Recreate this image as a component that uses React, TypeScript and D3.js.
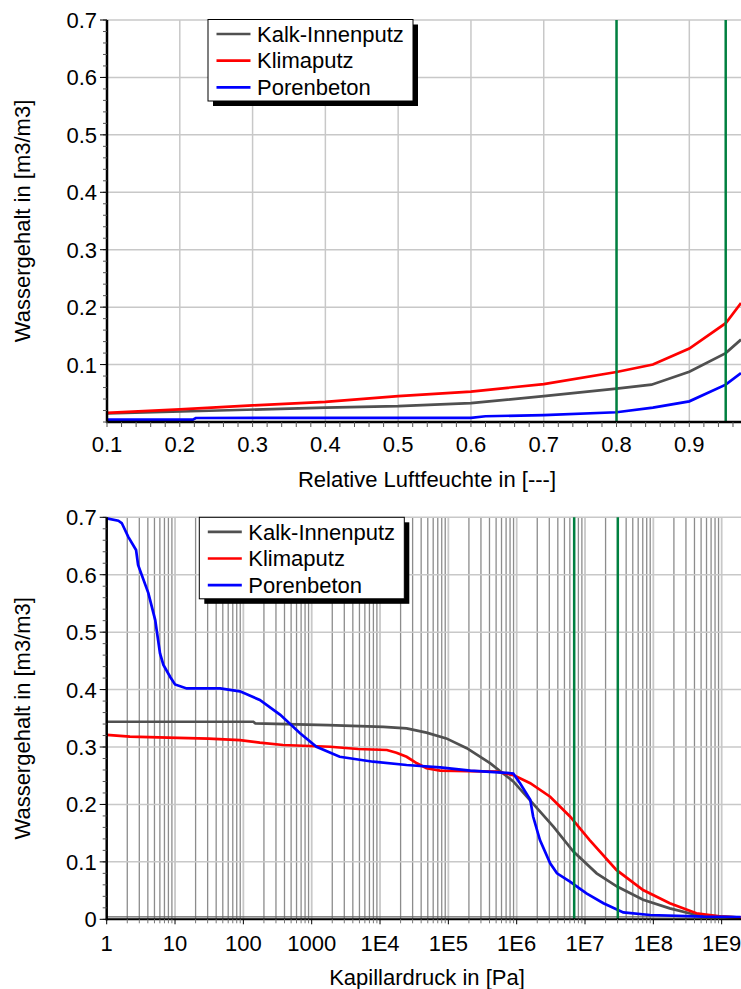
import React from "react";
import * as d3 from "d3";

// ---------- Data ----------
const seriesNames = ["Kalk-Innenputz", "Klimaputz", "Porenbeton"];
const seriesColors = ["#505050", "#ff0000", "#0000ff"];

// Top chart: relative humidity [-] vs water content
const rhKalk = [0.1, 0.4, 0.5, 0.6, 0.7, 0.8, 0.848, 0.9, 0.95, 0.971];
const wKalkRH = [0.0148, 0.025, 0.0275, 0.033, 0.045, 0.058, 0.065, 0.0875, 0.12, 0.1435];
const rhKlima = [0.1, 0.2, 0.3, 0.4, 0.5, 0.6, 0.7, 0.8, 0.85, 0.9, 0.95, 0.971];
const wKlimaRH = [0.016, 0.022, 0.029, 0.035, 0.045, 0.053, 0.066, 0.087, 0.1, 0.128, 0.172, 0.207];
const rhPoren = [0.1, 0.218, 0.222, 0.6, 0.62, 0.7, 0.8, 0.85, 0.9, 0.95, 0.971];
const wPorenRH = [0.004, 0.004, 0.007, 0.0073, 0.01, 0.012, 0.017, 0.025, 0.036, 0.065, 0.085];
const rhMarkers = [0.8, 0.95];

// Bottom chart: capillary pressure [Pa] vs water content
const pcKalk = [1, 140, 150, 1740, 11200, 24500, 47900, 93300, 186000, 407000, 891000, 1.55e6, 3.47e6, 6.76e6, 1.48e7, 2.95e7, 7.08e7, 1.74e8, 4.27e8, 1.9e9];
const wKalkPc = [0.344, 0.344, 0.341, 0.338, 0.335, 0.3325, 0.325, 0.315, 0.298, 0.272, 0.24, 0.208, 0.161, 0.118, 0.08, 0.057, 0.034, 0.019, 0.0075, 0.003];
const pcKlima = [1, 2.19, 11, 31, 89, 174, 380, 1860, 4790, 12600, 17400, 24500, 34700, 47900, 75900, 513000, 891000, 1.58e6, 3.09e6, 6.03e6, 1.17e7, 2.88e7, 7.08e7, 1.74e8, 4.27e8, 1.05e9, 1.9e9];
const wKlimaPc = [0.321, 0.318, 0.316, 0.3145, 0.312, 0.3075, 0.3035, 0.3005, 0.2965, 0.2948, 0.29, 0.283, 0.2716, 0.263, 0.2588, 0.257, 0.251, 0.237, 0.2135, 0.179, 0.138, 0.086, 0.051, 0.028, 0.0105, 0.0045, 0.003];
const pcPoren = [1, 1.48, 1.66, 2.07, 2.69, 2.88, 4.07, 5.13, 6.03, 6.76, 8.51, 10, 14.8, 45.7, 89, 174, 347, 676, 1175, 2570, 7943, 24500, 75900, 209000, 891000, 1.12e6, 1.58e6, 1.74e6, 2.19e6, 3.09e6, 3.89e6, 6.03e6, 1.05e7, 1.86e7, 3.63e7, 8.91e7, 5.37e8, 1.9e9];
const wPorenPc = [0.698, 0.694, 0.69, 0.666, 0.643, 0.617, 0.568, 0.521, 0.463, 0.443, 0.422, 0.409, 0.402, 0.402, 0.397, 0.382, 0.356, 0.324, 0.3005, 0.283, 0.2744, 0.2687, 0.2647, 0.2588, 0.254, 0.237, 0.208, 0.179, 0.138, 0.0975, 0.08, 0.0655, 0.045, 0.028, 0.012, 0.0075, 0.0045, 0.004];
const pcMarkers = [6.94e6, 3.02e7];

const yTicksTop = [0.1, 0.2, 0.3, 0.4, 0.5, 0.6, 0.7];
const yTicksBottom = [0, 0.1, 0.2, 0.3, 0.4, 0.5, 0.6, 0.7];
const xTicksTop = [0.1, 0.2, 0.3, 0.4, 0.5, 0.6, 0.7, 0.8, 0.9];
const xTickLabelsTop = ["0.1", "0.2", "0.3", "0.4", "0.5", "0.6", "0.7", "0.8", "0.9"];
const xTicksBottom = [1, 10, 100, 1000, 1e4, 1e5, 1e6, 1e7, 1e8, 1e9];
const xTickLabelsBottom = ["1", "10", "100", "1000", "1E4", "1E5", "1E6", "1E7", "1E8", "1E9"];

const yTitle = "Wassergehalt in [m3/m3]";
const xTitleTop = "Relative Luftfeuchte in [---]";
const xTitleBottom = "Kapillardruck in [Pa]";

// ---------- Layout ----------
const W = 741;
const H = 989;
const FONT = "'Liberation Sans', Arial, sans-serif";
const FS = 22;
const GRID = "#c8c8c8";
const GRID_DARK = "#8c8c8c";
const GREEN = "#008040";

type Pt = [number, number];
const zip = (xs: number[], ys: number[]): Pt[] => xs.map((x, i) => [x, ys[i]]);

function Legend({ x, y }: { x: number; y: number }) {
  const w = 205;
  const h = 81.5;
  return (
    <g>
      <rect x={x + 5} y={y + 5} width={w} height={h} fill="#000" />
      <rect x={x} y={y} width={w} height={h} fill="#fff" stroke="#000" strokeWidth={1} />
      {seriesNames.map((n, i) => {
        const cy = y + 14.5 + i * 26.7;
        return (
          <g key={n}>
            <line x1={x + 8.5} x2={x + 42.5} y1={cy} y2={cy} stroke={seriesColors[i]} strokeWidth={2.7} />
            <text x={x + 49} y={cy + 7.7} fontSize={FS} fontFamily={FONT} fill="#000">
              {n}
            </text>
          </g>
        );
      })}
    </g>
  );
}

function TopChart() {
  const left = 107;
  const top = 20;
  const bottom = 422;
  const x = d3.scaleLinear().domain([0.1, 0.971]).range([left, W]);
  const y = d3.scaleLinear().domain([0, 0.7]).range([bottom, top]);
  const line = d3
    .line<Pt>()
    .x((d) => x(d[0]))
    .y((d) => y(d[1]));
  const series = [zip(rhKalk, wKalkRH), zip(rhKlima, wKlimaRH), zip(rhPoren, wPorenRH)];
  const yMinor = d3.range(0, 0.7001, 0.02);
  const xMinor = d3.range(0.1, 0.971, 0.02);
  return (
    <g>
      {xTicksTop.slice(1).map((t) => (
        <line key={"gx" + t} x1={x(t)} x2={x(t)} y1={top} y2={bottom} stroke={GRID} strokeWidth={1.5} />
      ))}
      {yTicksTop.map((t) => (
        <line key={"gy" + t} x1={left} x2={W} y1={y(t)} y2={y(t)} stroke={GRID} strokeWidth={1.5} />
      ))}
      {series.map((s, i) => (
        <path key={i} d={line(s) || ""} fill="none" stroke={seriesColors[i]} strokeWidth={2.7} />
      ))}
      {rhMarkers.map((m) => (
        <line key={"m" + m} x1={x(m)} x2={x(m)} y1={top} y2={bottom} stroke={GREEN} strokeWidth={2.5} />
      ))}
      {/* axes */}
      <line x1={left} x2={left} y1={top} y2={bottom + 1} stroke="#000" strokeWidth={2.5} />
      <line x1={left - 1} x2={W} y1={bottom} y2={bottom} stroke="#000" strokeWidth={2.5} />
      {yMinor.map((t) => (
        <line key={"ym" + t} x1={left - 4} x2={left} y1={y(t)} y2={y(t)} stroke="#555" strokeWidth={1} />
      ))}
      {yTicksTop.map((t) => (
        <line key={"yt" + t} x1={left - 7} x2={left} y1={y(t)} y2={y(t)} stroke="#000" strokeWidth={1} />
      ))}
      {xMinor.map((t) => (
        <line key={"xm" + t} x1={x(t)} x2={x(t)} y1={bottom} y2={bottom + 5} stroke="#555" strokeWidth={1} />
      ))}
      {yTicksTop.map((t) => (
        <text key={"yl" + t} x={left - 10} y={y(t) + 8} textAnchor="end" fontSize={FS} fontFamily={FONT}>
          {t.toFixed(1)}
        </text>
      ))}
      {xTicksTop.map((t, i) => (
        <text key={"xl" + t} x={x(t)} y={452} textAnchor="middle" fontSize={FS} fontFamily={FONT}>
          {xTickLabelsTop[i]}
        </text>
      ))}
      <text x={427} y={487} textAnchor="middle" fontSize={FS} fontFamily={FONT}>
        {xTitleTop}
      </text>
      <text
        transform={`translate(30, ${(top + bottom) / 2}) rotate(-90)`}
        textAnchor="middle"
        fontSize={FS}
        fontFamily={FONT}
      >
        {yTitle}
      </text>
      <Legend x={208} y={19.5} />
    </g>
  );
}

function BottomChart() {
  const left = 106.7;
  const top = 517.3;
  const bottom = 919.3;
  const xMax = Math.pow(10, (W - left) / 68.33);
  const x = d3.scaleLog().domain([1, xMax]).range([left, W]);
  const y = d3.scaleLinear().domain([0, 0.7]).range([bottom, top]);
  const line = d3
    .line<Pt>()
    .x((d) => x(d[0]))
    .y((d) => y(d[1]));
  const series = [zip(pcKalk, wKalkPc), zip(pcKlima, wKlimaPc), zip(pcPoren, wPorenPc)];
  const minor: number[] = [];
  for (let k = 0; k <= 9; k++) {
    for (let m = 2; m <= 9; m++) {
      const v = m * Math.pow(10, k);
      if (v < xMax) minor.push(v);
    }
  }
  const yMinor = d3.range(0, 0.7001, 0.02);
  return (
    <g>
      {minor.map((t) => (
        <line key={"gm" + t} x1={x(t)} x2={x(t)} y1={top} y2={bottom} stroke={GRID_DARK} strokeWidth={1.3} />
      ))}
      {xTicksBottom.slice(1).map((t) => (
        <line key={"gx" + t} x1={x(t)} x2={x(t)} y1={top} y2={bottom} stroke={GRID} strokeWidth={1.8} />
      ))}
      {yTicksBottom.map((t) => (
        <line key={"gy" + t} x1={left} x2={W} y1={y(t)} y2={y(t)} stroke={GRID} strokeWidth={1.5} />
      ))}
      <line x1={left} x2={W} y1={bottom - 2.5} y2={bottom - 2.5} stroke="#606060" strokeWidth={1.2} />
      {series.map((s, i) => (
        <path key={i} d={line(s) || ""} fill="none" stroke={seriesColors[i]} strokeWidth={2.7} />
      ))}
      {pcMarkers.map((m) => (
        <line key={"m" + m} x1={x(m)} x2={x(m)} y1={top} y2={bottom} stroke={GREEN} strokeWidth={2.5} />
      ))}
      {/* axes */}
      <line x1={left} x2={left} y1={top} y2={bottom + 1} stroke="#000" strokeWidth={2.5} />
      <line x1={left - 1} x2={W} y1={bottom} y2={bottom} stroke="#000" strokeWidth={2} />
      {yMinor.map((t) => (
        <line key={"ym" + t} x1={left - 4} x2={left} y1={y(t)} y2={y(t)} stroke="#555" strokeWidth={1} />
      ))}
      {yTicksBottom.map((t) => (
        <line key={"yt" + t} x1={left - 7} x2={left} y1={y(t)} y2={y(t)} stroke="#000" strokeWidth={1} />
      ))}
      {minor.map((t) => (
        <line key={"xm" + t} x1={x(t)} x2={x(t)} y1={bottom} y2={bottom + 4} stroke="#777" strokeWidth={1} />
      ))}
      {xTicksBottom.map((t) => (
        <line key={"xt" + t} x1={x(t)} x2={x(t)} y1={bottom} y2={bottom + 5} stroke="#000" strokeWidth={1} />
      ))}
      {yTicksBottom.map((t) => (
        <text key={"yl" + t} x={left - 10} y={y(t) + 8} textAnchor="end" fontSize={FS} fontFamily={FONT}>
          {t === 0 ? "0" : t.toFixed(1)}
        </text>
      ))}
      {xTicksBottom.map((t, i) => (
        <text key={"xl" + t} x={x(t)} y={951} textAnchor="middle" fontSize={FS} fontFamily={FONT}>
          {xTickLabelsBottom[i]}
        </text>
      ))}
      <text x={427} y={985} textAnchor="middle" fontSize={FS} fontFamily={FONT}>
        {xTitleBottom}
      </text>
      <text
        transform={`translate(30, ${(top + bottom) / 2}) rotate(-90)`}
        textAnchor="middle"
        fontSize={FS}
        fontFamily={FONT}
      >
        {yTitle}
      </text>
      <Legend x={199.3} y={517.3} />
    </g>
  );
}

export default function App() {
  return (
    <svg
      width={W}
      height={H}
      viewBox={`0 0 ${W} ${H}`}
      style={{ position: "absolute", left: 0, top: 0, background: "#fff" }}
    >
      <rect x={0} y={0} width={W} height={H} fill="#fff" />
      <TopChart />
      <BottomChart />
    </svg>
  );
}
